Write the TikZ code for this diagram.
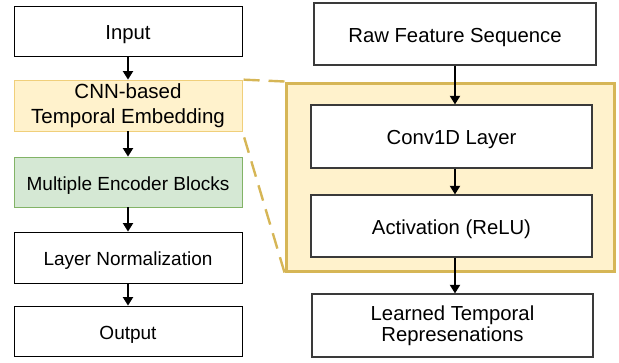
\documentclass[tikz,border=0pt]{standalone}
\usepackage{fontspec}
\setmainfont{Liberation Sans}
\usetikzlibrary{arrows.meta}
\definecolor{goldline}{HTML}{D6B656}
\definecolor{goldfill}{HTML}{FFF2CC}
\definecolor{cnnline}{HTML}{F0CF7A}
\definecolor{greenfill}{HTML}{D5E8D4}
\definecolor{greenline}{HTML}{82B366}
\definecolor{boxgray}{HTML}{3A3A3A}
\tikzset{
  lbox/.style={draw=black, line width=0.8pt, fill=white, minimum width=228pt, inner sep=0pt, align=center, font=\fontsize{20.3}{22}\selectfont},
  rbox/.style={draw=boxgray, line width=1.2pt, fill=white, inner sep=0pt, align=center, font=\fontsize{20.3}{21}\selectfont},
  arial/.style={font=\fontsize{19}{21}\selectfont},
  oneline/.style={text height=16pt, text depth=0pt},
  arr/.style={line width=1.9pt, -{Triangle[width=10pt,length=8.5pt]}},
  zoomline/.style={draw=goldline, line width=2.4pt, dash pattern=on 16pt off 9pt},
}
\begin{document}
\begin{tikzpicture}[x=1pt,y=-1pt]
\useasboundingbox (0,0) rectangle (619,362);
% left column
\node[lbox, oneline, minimum height=50pt] (inp) at (128,31) {Input};
\node[lbox, draw=cnnline, fill=goldfill, minimum height=51pt, font=\fontsize{20.5}{25.5}\selectfont] (cnn) at (128,105.5) {CNN-based\\Temporal Embedding};
\node[lbox, arial, oneline, draw=greenline, fill=greenfill, minimum height=50pt] (enc) at (128,182) {Multiple Encoder Blocks};
\node[lbox, arial, oneline, minimum height=51pt] (ln) at (128,257.5) {Layer Normalization};
\node[lbox, arial, oneline, minimum height=50pt] (out) at (128,331) {Output};
\draw[arr] (inp) -- (cnn);
\draw[arr] (cnn) -- (enc);
\draw[arr] (enc) -- (ln);
\draw[arr] (ln) -- (out);
% zoomed panel
\node[draw=goldline, fill=goldfill, line width=3pt, minimum width=328pt, minimum height=188pt, inner sep=0pt] (big) at (450,177) {};
\draw[zoomline] (big.north west) -- (cnn.north east);
\draw[zoomline] (big.south west) -- (cnn.south east);
\node[rbox, oneline, minimum width=282pt, minimum height=62pt] (raw) at (455,34) {Raw Feature Sequence};
\node[rbox, oneline, minimum width=281pt, minimum height=63pt] (conv) at (451.5,136.5) {Conv1D Layer};
\node[rbox, oneline, minimum width=281pt, minimum height=62pt] (act) at (451.5,226) {Activation (ReLU)};
\node[rbox, minimum width=281pt, minimum height=63pt] (lrn) at (452.5,325.5) {Learned Temporal\\Represenations};
\draw[arr] (raw.south) -- (raw.south |- conv.north);
\draw[arr] (raw.south |- conv.south) -- (raw.south |- act.north);
\draw[arr] (raw.south |- act.south) -- (raw.south |- lrn.north);
\end{tikzpicture}
\end{document}
